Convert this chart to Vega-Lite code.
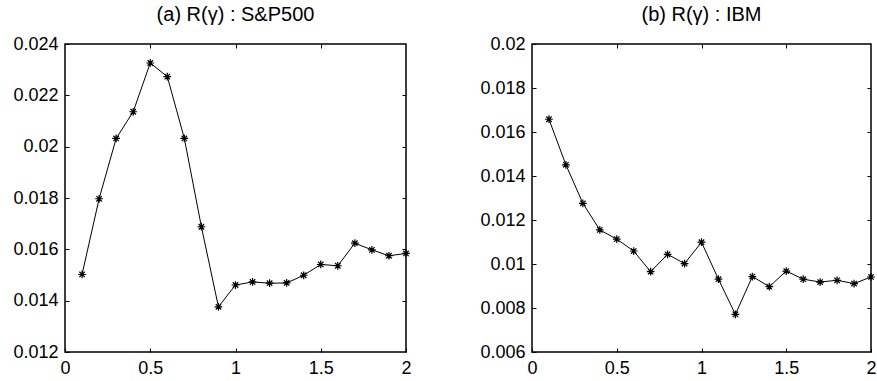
{
  "$schema": "https://vega.github.io/schema/vega-lite/v6.json",
  "background": "white",
  "padding": {"left": 12, "top": 4, "right": 5, "bottom": 5},
  "bounds": "flush",
  "spacing": 126,
  "datasets": {
    "sp500": [
      {"gamma": 0.1, "R": 0.01502},
      {"gamma": 0.2, "R": 0.01797},
      {"gamma": 0.3, "R": 0.02032},
      {"gamma": 0.4, "R": 0.02136},
      {"gamma": 0.5, "R": 0.02326},
      {"gamma": 0.6, "R": 0.02273},
      {"gamma": 0.7, "R": 0.02032},
      {"gamma": 0.8, "R": 0.01688},
      {"gamma": 0.9, "R": 0.01376},
      {"gamma": 1.0, "R": 0.01461},
      {"gamma": 1.1, "R": 0.01473},
      {"gamma": 1.2, "R": 0.01468},
      {"gamma": 1.3, "R": 0.01469},
      {"gamma": 1.4, "R": 0.01499},
      {"gamma": 1.5, "R": 0.01541},
      {"gamma": 1.6, "R": 0.01536},
      {"gamma": 1.7, "R": 0.01624},
      {"gamma": 1.8, "R": 0.01598},
      {"gamma": 1.9, "R": 0.01575},
      {"gamma": 2.0, "R": 0.01584}
    ],
    "ibm": [
      {"gamma": 0.1, "R": 0.01658},
      {"gamma": 0.2, "R": 0.01451},
      {"gamma": 0.3, "R": 0.01276},
      {"gamma": 0.4, "R": 0.01155},
      {"gamma": 0.5, "R": 0.01113},
      {"gamma": 0.6, "R": 0.01059},
      {"gamma": 0.7, "R": 0.00965},
      {"gamma": 0.8, "R": 0.01044},
      {"gamma": 0.9, "R": 0.01002},
      {"gamma": 1.0, "R": 0.01099},
      {"gamma": 1.1, "R": 0.00931},
      {"gamma": 1.2, "R": 0.00771},
      {"gamma": 1.3, "R": 0.00943},
      {"gamma": 1.4, "R": 0.00897},
      {"gamma": 1.5, "R": 0.00968},
      {"gamma": 1.6, "R": 0.00931},
      {"gamma": 1.7, "R": 0.00918},
      {"gamma": 1.8, "R": 0.00926},
      {"gamma": 1.9, "R": 0.00911},
      {"gamma": 2.0, "R": 0.00941}
    ]
  },
  "config": {
    "font": "Liberation Sans",
    "view": {"stroke": "black", "strokeWidth": 1.5},
    "axis": {
      "grid": false,
      "domain": false,
      "tickColor": "black",
      "tickSize": -4,
      "tickWidth": 1,
      "labelFont": "Liberation Sans",
      "labelFontSize": 18,
      "labelColor": "black",
      "title": null,
      "format": "~g"
    },
    "title": {"font": "Liberation Sans", "fontSize": 20, "fontWeight": "normal", "color": "black", "offset": 10}
  },
  "hconcat": [
    {
      "width": 341,
      "height": 308,
      "title": "(a) R(γ) : S&P500",
      "data": {"name": "sp500"},
      "layer": [
        {
          "mark": {"type": "line", "color": "black", "strokeWidth": 1},
          "encoding": {
            "x": {"field": "gamma", "type": "quantitative", "scale": {"domain": [0, 2], "nice": false}, "axis": {"orient": "bottom", "values": [0, 0.5, 1, 1.5, 2], "labelPadding": 11, "labelFlush": false}},
            "y": {"field": "R", "type": "quantitative", "scale": {"domain": [0.012, 0.024], "nice": false, "zero": false}, "axis": {"orient": "left", "values": [0.012, 0.014, 0.016, 0.018, 0.02, 0.022, 0.024], "labelPadding": 11}}
          }
        },
        {
          "mark": {"type": "point", "shape": "M-1,0L1,0M0,-1L0,1M-0.7,-0.7L0.7,0.7M-0.7,0.7L0.7,-0.7", "filled": false, "color": "black", "strokeWidth": 1.2, "size": 60, "opacity": 1},
          "encoding": {
            "x": {"field": "gamma", "type": "quantitative", "axis": {"orient": "top", "values": [0.5, 1, 1.5], "labels": false}},
            "y": {"field": "R", "type": "quantitative", "axis": {"orient": "right", "values": [0.014, 0.016, 0.018, 0.02, 0.022], "labels": false}}
          }
        }
      ],
      "resolve": {"axis": {"x": "independent", "y": "independent"}}
    },
    {
      "width": 339,
      "height": 308,
      "title": "(b) R(γ) : IBM",
      "data": {"name": "ibm"},
      "layer": [
        {
          "mark": {"type": "line", "color": "black", "strokeWidth": 1},
          "encoding": {
            "x": {"field": "gamma", "type": "quantitative", "scale": {"domain": [0, 2], "nice": false}, "axis": {"orient": "bottom", "values": [0, 0.5, 1, 1.5, 2], "labelPadding": 11, "labelFlush": false}},
            "y": {"field": "R", "type": "quantitative", "scale": {"domain": [0.006, 0.02], "nice": false, "zero": false}, "axis": {"orient": "left", "values": [0.006, 0.008, 0.01, 0.012, 0.014, 0.016, 0.018, 0.02], "labelPadding": 11}}
          }
        },
        {
          "mark": {"type": "point", "shape": "M-1,0L1,0M0,-1L0,1M-0.7,-0.7L0.7,0.7M-0.7,0.7L0.7,-0.7", "filled": false, "color": "black", "strokeWidth": 1.2, "size": 60, "opacity": 1},
          "encoding": {
            "x": {"field": "gamma", "type": "quantitative", "axis": {"orient": "top", "values": [0.5, 1, 1.5], "labels": false}},
            "y": {"field": "R", "type": "quantitative", "axis": {"orient": "right", "values": [0.008, 0.01, 0.012, 0.014, 0.016, 0.018], "labels": false}}
          }
        }
      ],
      "resolve": {"axis": {"x": "independent", "y": "independent"}}
    }
  ]
}
